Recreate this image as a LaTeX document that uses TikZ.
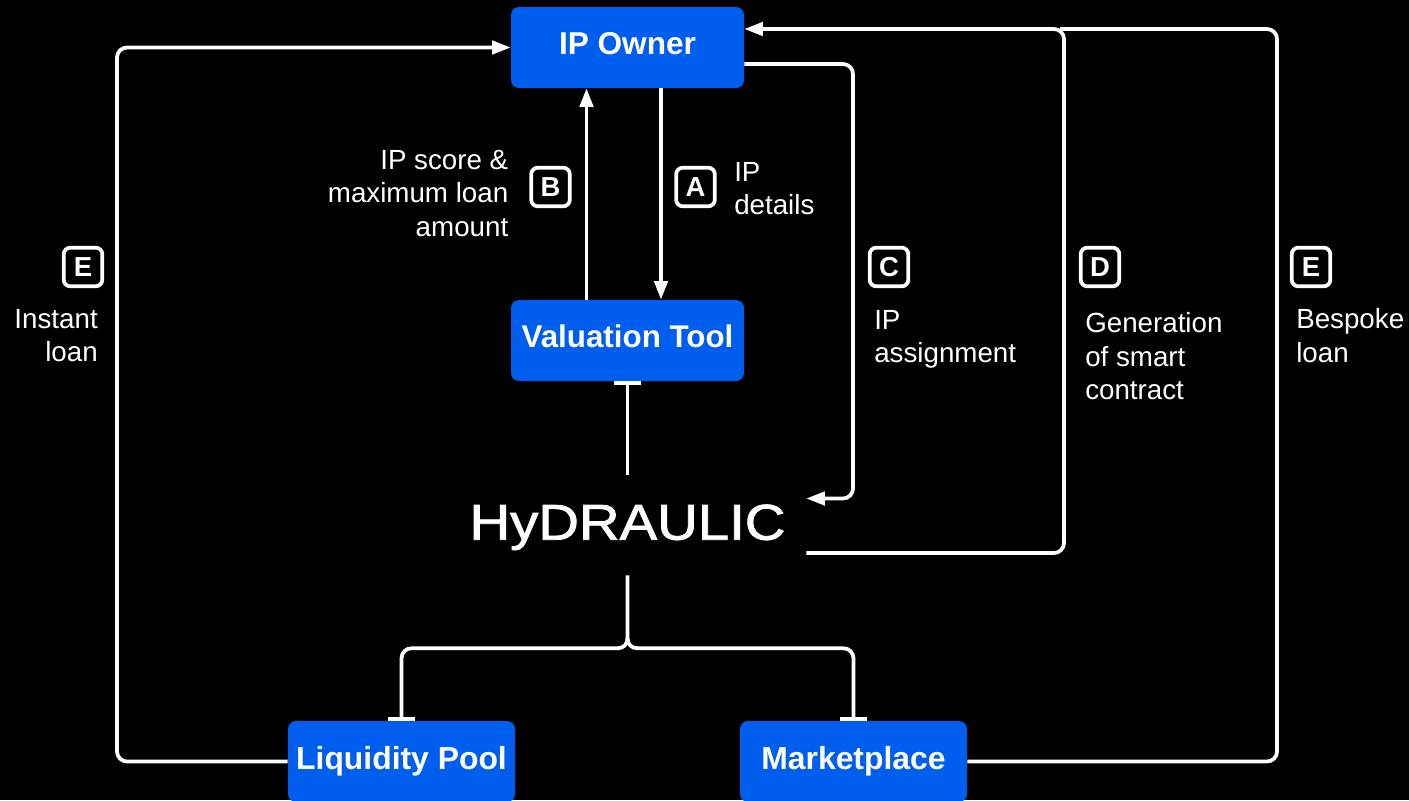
\documentclass[tikz,border=0pt]{standalone}
\usepackage{fontspec}
\setmainfont{Liberation Sans}
\newfontfamily\hydfont[FakeBold=1.5]{Liberation Sans}
\usetikzlibrary{arrows.meta,calc}
\definecolor{boxblue}{HTML}{005EEF}
\tikzset{
  x=0.75pt,y=-0.75pt,
  box/.style={fill=boxblue,rounded corners=6pt,text=white,font=\fontsize{23.7pt}{28pt}\selectfont\bfseries,inner sep=0pt,minimum height=60.75pt},
  wide/.style={minimum width=174.75pt},
  narrow/.style={minimum width=170.25pt},
  badge/.style={draw=white,line width=2.8pt,rounded corners=5pt,text=white,minimum size=29pt,inner sep=0pt,font=\fontsize{20.6pt}{24pt}\selectfont\bfseries},
  lbl/.style={text=white,inner sep=0pt,font=\fontsize{20.8pt}{25.1pt}\selectfont},
  conn/.style={draw=white,line width=2.8pt,rounded corners=7.5pt},
  arr/.style={conn,-{Triangle[length=14pt,width=10pt]}},
  tee/.style={conn,-{Bar[width=20pt,line width=2.8pt]}},
}
\begin{document}
\begin{tikzpicture}
\path[use as bounding box,fill=black] (0,0) rectangle (1409,800);
\node[box,wide] (ip) at (627.5,47.5) {\raisebox{6pt}{IP Owner}};
\node[box,wide,font=\fontsize{23.5pt}{28pt}\selectfont\bfseries] (val) at (627.5,340.5) {\raisebox{6pt}{Valuation Tool}};
\node[box,narrow,font=\fontsize{23.9pt}{28pt}\selectfont\bfseries] (lp) at (401.5,761.5) {\raisebox{1.5pt}{Liquidity Pool}};
\node[box,narrow,font=\fontsize{23.9pt}{28pt}\selectfont\bfseries] (mp) at (853.5,761.5) {\raisebox{1.5pt}{Marketplace}};
\node[text=white,inner sep=0pt,minimum width=267.75pt,minimum height=75pt,font=\fontsize{37.7pt}{42pt}\hydfont] (hyd) at (627.5,525) {\raisebox{-11pt}[0pt][0pt]{\scalebox{1.12}[1]{HyDRAULIC}}};
\coordinate (split) at ($(hyd.south)+(0,73)$);
\coordinate (righttop) at (1277,29);
\coordinate (midtop) at (1064,29);

\draw[arr] ($(ip.south)+(33.5,0)$) -- ($(val.north)+(33.5,0)$);
\draw[arr] ($(val.north)+(-41,0)$) -- ($(ip.south)+(-41,0)$);
\draw[tee] (hyd.north) -- (val.south);
\draw[conn,sharp corners] (hyd.south) -- ($(split)+(0,-10)$) .. controls ($(split)+(0,-4)$) and ($(split)+(-4,0)$) .. ($(split)+(-10,0)$);
\draw[conn,sharp corners] ($(split)+(0,-10)$) .. controls ($(split)+(0,-4)$) and ($(split)+(4,0)$) .. ($(split)+(10,0)$);
\draw[tee] ($(split)+(-8,0)$) -- (lp.north |- split) -- (lp.north);
\draw[tee] ($(split)+(8,0)$) -- (mp.north |- split) -- (mp.north);
\draw[arr] (ip.east |- 0,64) -- (853,64) -- (853,498.5) -- ($(hyd.east)+(0,-26.5)$);
\draw[arr] ($(hyd.east)+(0,28)$) -- (midtop |- 0,553) -- (midtop) -- (ip.east |- midtop);
\draw[conn] (mp.east) -- (righttop |- mp.east) -- (righttop) -- (1060,29);
\draw[arr] (lp.west) -- (117,761.5) -- (117,47.5) -- (ip.west);

\node[badge] (ba) at (695.5,187) {A};
\node[badge] (bb) at (550.5,187) {B};
\node[badge] (bc) at (889,267) {C};
\node[badge] (bd) at (1100,267) {D};
\node[badge] (be) at (1311,267) {E};
\node[badge] (bf) at (83,267) {E};

\node[lbl,anchor=east,align=right] (t1) at (508.5,193.5) {IP score \&\\maximum loan\\amount};
\node[lbl,anchor=west,align=left] (t2) at (734,188.5) {IP\\details};
\node[lbl,anchor=west,align=left] (t3) at (874,339.5) {IP\\assignment};
\node[lbl,anchor=west,align=left] (t4) at (1085,356.5) {Generation\\of smart\\contract};
\node[lbl,anchor=west,align=left] (t5) at (1296,335.5) {Bespoke\\loan};
\node[lbl,anchor=east,align=right] (t6) at (98,335.5) {Instant\\loan};
\end{tikzpicture}
\end{document}
